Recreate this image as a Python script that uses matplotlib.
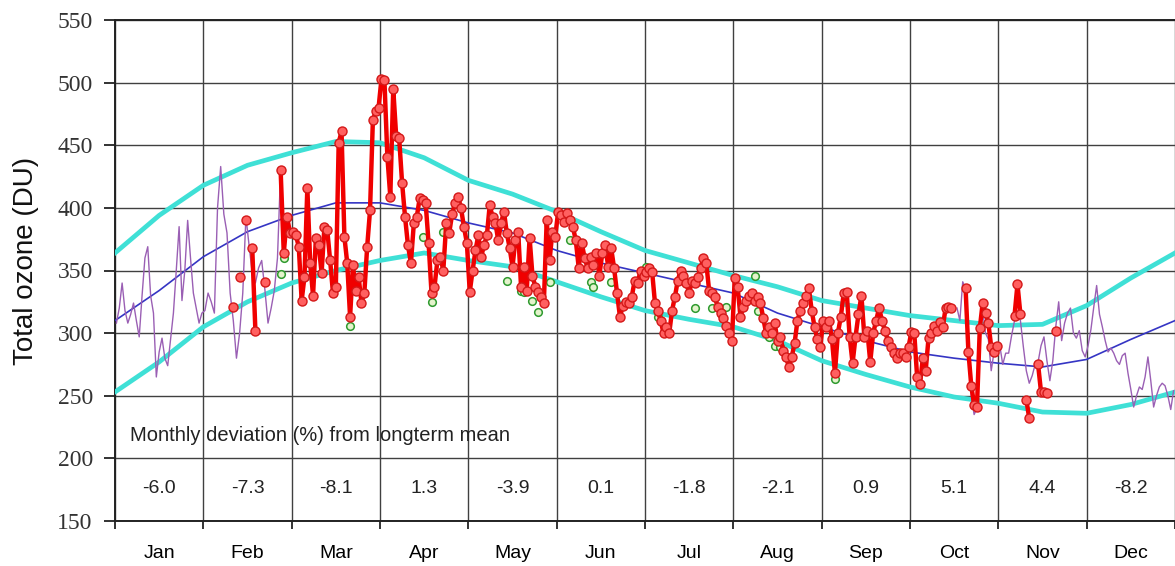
import numpy as np
import matplotlib
matplotlib.use("Agg")
import matplotlib.pyplot as plt

MONTHS = ["Jan", "Feb", "Mar", "Apr", "May", "Jun",
          "Jul", "Aug", "Sep", "Oct", "Nov", "Dec"]
DAYS = [31, 28, 31, 30, 31, 30, 31, 31, 30, 31, 30, 31]
DEVIATION = [-6.0, -7.3, -8.1, 1.3, -3.9, 0.1, -1.8, -2.1, 0.9, 5.1, 4.4, -8.2]

# longterm mean and its band, read every half month
curve_pos = np.arange(0, 12.5, 0.5)
mean_curve = [310, 334, 361, 381, 394, 404, 404, 398, 388, 380, 366, 356, 348,
              340, 332, 316, 305, 294, 285, 280, 276, 273, 279, 295, 310]
upper_curve = [364, 394, 418, 434, 444, 453, 452, 440, 422, 411, 397, 381, 366,
               356, 346, 337, 326, 320, 314, 310, 306, 307, 322, 344, 364]
lower_curve = [253, 277, 305, 325, 340, 350, 358, 364, 358, 353, 341, 329, 318,
               311, 305, 294, 278, 267, 257, 249, 244, 237, 236, 243, 253]

# thin purple daily series (visible at start and end of year)
purple_jan = [308, 320, 340, 318, 308, 315, 324, 310, 297, 330, 360, 369, 330, 316, 265, 285,
              296, 280, 274, 295, 316, 350, 385, 326, 350, 390, 360, 332, 320, 308, 316]
purple_feb = [318, 332, 325, 316, 400, 433, 395, 380, 332, 310, 280, 300, 332, 393, 370, 348,
              340, 352, 358, 335, 308, 320, 334, 360, 430, 364, 393, 380]
purple_oct = [None] * 16 + [320, 310, 341, 336, 290, 250, 235, 240, 300, 318, 300, 295, 270, 285, 290]
purple_nov = [290, 275, 284, 284, 298, 310, 316, 310, 289, 270, 260, 266, 275, 277, 290,
              297, 278, 262, 278, 305, 325, 294, 308, 316, 320, 300, 296, 302, 286, 281]
purple_dec = [290, 303, 321, 338, 315, 305, 294, 285, 288, 284, 278, 275, 282, 284, 268, 255,
              241, 250, 257, 255, 265, 281, 262, 241, 250, 257, 260, 258, 250, 239, 254]

# red daily measurements (None = no measurement)
red_feb = [None] * 9 + [321, None, 345, None, 390, None, 368, 302, None, None, 341,
                        None, None, None, None, 430, 364, 393, 380]
red_mar = [381, 378, 369, 326, 345, 416, 356, 330, 376, 370, 348, 385, 382, 358, 332, 337,
           452, 461, 377, 356, 313, 354, 334, 345, 324, 332, 369, 398, 470, 477, 480]
red_apr = [503, 502, 441, 409, 495, 457, 456, 420, 393, 370, 356, 388, 393, 408, 406,
           404, 372, 332, 337, 358, 361, 350, 388, 380, 395, 404, 409, 400, 385, 372]
red_may = [333, 350, 366, 378, 361, 370, 378, 402, 393, 388, 374, 388, 397, 380, 368, 353,
           374, 381, 337, 353, 334, 376, 346, 337, 333, 329, 324, 390, 358, 381, 377]
red_jun = [397, 394, 389, 396, 390, 385, 374, 352, 372, 360, 352, 361, 354, 364, 346,
           364, 370, 353, 368, 352, 332, 313, 322, 325, 324, 329, 342, 340, 350, 346]
red_jul = [349, 352, 349, 324, 318, 310, 300, 305, 300, 318, 329, 342, 350, 346, 340, 332,
           342, 340, 345, 352, 360, 356, 334, 332, 329, 321, 316, 312, 306, 300, 294]
red_aug = [344, 337, 313, 321, 326, 330, 332, 326, 329, 324, 312, 300, 305, 300, 308, 294,
           297, 286, 281, 273, 281, 292, 310, 318, 324, 330, 336, 318, 305, 295, 289]
red_sep = [310, 305, 310, 295, 268, 300, 313, 332, 333, 297, 276, 297, 315, 330, 297,
           302, 277, 300, 310, 320, 310, 302, 294, 289, 284, 280, 284, 284, 281, 289]
red_oct = [301, 300, 265, 259, 280, 270, 296, 300, 306, 302, 309, 305, 320, 321, 320, None,
           None, None, None, 336, 285, 258, 243, 241, 304, 324, 316, 308, 289, 285, 290]
red_nov = [None] * 5 + [314, 339, 315, None, 247, 232, None, None, 275, 253, 253, 252,
                        None, None, 302] + [None] * 10

# green points from the second instrument
green_month = [1, 1, 2, 3, 3, 3, 4, 4, 4, 4, 4, 4, 5, 5, 5, 5, 6, 6, 6, 6, 6, 6, 7, 7, 7, 7, 7, 8]
green_day = [25, 26, 21, 15, 18, 22, 14, 19, 20, 23, 25, 29, 5, 12, 13, 19,
             1, 5, 18, 24, 27, 29, 8, 9, 13, 15, 17, 5]
green_val = [347, 360, 306, 377, 325, 381, 342, 334, 333, 326, 317, 341, 374, 341, 337, 341,
             353, 313, 320, 320, 316, 321, 346, 318, 297, 290, 289, 263]


def day_x(m, d):
    return m + (d - 0.5) / DAYS[m]


def series(first_month, months):
    xs, ys = [], []
    for k, vals in enumerate(months):
        m = first_month + k
        for d, v in enumerate(vals, start=1):
            xs.append(day_x(m, d))
            ys.append(np.nan if v is None else v)
    return np.array(xs), np.array(ys, dtype=float)


fig = plt.figure(figsize=(11.75, 5.66), dpi=100)
ax = fig.add_axes([115 / 1175, 45 / 566, 1060 / 1175, 501 / 566])
ax.set_xlim(0, 12)
ax.set_ylim(150, 550)

# band and mean
ax.plot(curve_pos, upper_curve, color="#3fe0d6", lw=3.4, zorder=3)
ax.plot(curve_pos, lower_curve, color="#3fe0d6", lw=3.4, zorder=3)
ax.plot(curve_pos, mean_curve, color="#3535c4", lw=1.2, zorder=3)

# purple thin line
px1, py1 = series(0, [purple_jan, purple_feb])
px2, py2 = series(9, [purple_oct, purple_nov, purple_dec])
ax.plot(px1, py1, color="#9a5fb4", lw=1.0, zorder=4)
ax.plot(px2, py2, color="#9a5fb4", lw=1.0, zorder=4)

# green points
gx = [day_x(m, d) for m, d in zip(green_month, green_day)]
ax.plot(gx, green_val, ls="none", marker="o", ms=5.5, mfc="#e4f3cc", mec="#2f9a2f", mew=1.1, zorder=5)

# red measurements
rx, ry = series(1, [red_feb, red_mar, red_apr, red_may, red_jun, red_jul,
                    red_aug, red_sep, red_oct, red_nov])
ax.plot(rx, ry, color="#f00000", lw=3.2, marker="o", ms=6.5, mfc="#ff6060",
        mec="#d41818", mew=1.0, zorder=6)

# monthly deviation table
ax.text(0.17, 218, "Monthly deviation (%) from longterm mean", fontsize=14.5,
        family="Liberation Sans", color="#222222", va="center", zorder=7)
for m, v in enumerate(DEVIATION):
    ax.text(m + 0.5, 176, "%.1f" % v, fontsize=14, family="Liberation Sans",
            color="#222222", ha="center", va="center", zorder=7)

# axes, ticks and grid
ax.set_yticks(range(150, 551, 50))
ax.set_xticks(range(13))
ax.set_xticklabels([])
ax.set_xticks(np.arange(0.5, 12, 1), minor=True)
ax.set_xticklabels(MONTHS, minor=True, fontsize=14, family="Liberation Sans")
ax.tick_params(axis="x", which="minor", length=0, pad=17)
ax.tick_params(axis="x", which="major", length=6, width=1.3, color="#222222")
ax.tick_params(axis="y", length=8, width=1.3, pad=8, color="#222222", labelcolor="#333333")
for lab in ax.get_yticklabels():
    lab.set_family("Liberation Serif")
    lab.set_fontsize(17)

ax.grid(True, which="major", color="#404040", lw=1.0, zorder=1)
ax.set_axisbelow(True)
ax.spines["right"].set_visible(False)
for s in ["left", "bottom", "top"]:
    ax.spines[s].set_linewidth(1.4)
    ax.spines[s].set_color("#222222")

ax.set_ylabel("Total ozone (DU)", fontsize=20, family="Liberation Sans", color="#111111")
ax.yaxis.set_label_coords(-0.072, 0.52)

fig.savefig("out.png", dpi=100)
